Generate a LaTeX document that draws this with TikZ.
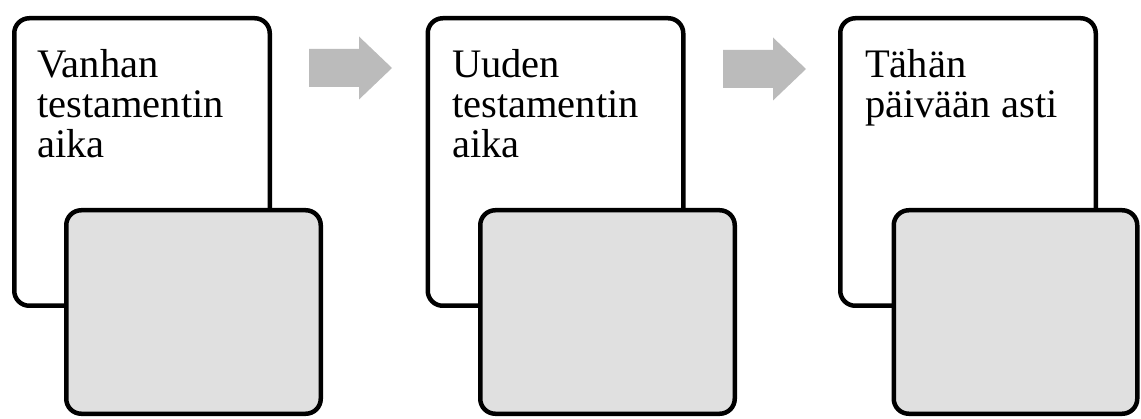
\documentclass[tikz,border=0pt]{standalone}
\usepackage{fontspec}
\setmainfont{Liberation Serif}
\usetikzlibrary{calc}
\definecolor{box-grey}{RGB}{224,224,224}
\definecolor{arrow-grey}{RGB}{187,187,187}
\tikzset{
	era box/.style={draw, fill=white, rounded corners=15pt, line width=4.5pt, minimum width=255.5pt, minimum height=287.5pt, inner sep=0pt},
	sub box/.style={draw, fill=box-grey, rounded corners=15pt, line width=4.5pt, minimum width=254.5pt, minimum height=203.5pt, inner sep=0pt},
	era text/.style={anchor=north west, inner sep=0pt, align=left, font=\fontsize{40.5}{40}\selectfont}
}
\newcommand{\stepArrow}[1]{
	\fill[arrow-grey] ($#1+(0,-19)$) -- ++(50,0) -- ++(0,-12.5) -- ($#1+(83,0)$) -- ($#1+(50,31.5)$) -- ++(0,-12.5) -- ($#1+(0,19)$) -- cycle;
}

\begin{document}
\begin{tikzpicture}[x=1pt,y=1pt]
	\useasboundingbox (0,0) rectangle (1141,418);
	% first era
	\node[era box] (old) at (142,256) {};
	\node[sub box] (oldsub) at (193.5,106) {};
	\node[era text] (oldlabel) at (37,369) {Vanhan\\testamentin\\aika};
	\stepArrow{(309,350)}
	% second era
	\node[era box] (new) at (555.5,256) {};
	\node[sub box] (newsub) at (607.5,106) {};
	\node[era text] (newlabel) at (452,369) {Uuden\\testamentin\\aika};
	\stepArrow{(723,349)}
	% third era
	\node[era box] (today) at (968,256) {};
	\node[sub box, minimum width=243.5pt] (todaysub) at (1015.5,106) {};
	\node[era text] (todaylabel) at (865,369) {Tähän\\päivään asti};
\end{tikzpicture}
\end{document}
